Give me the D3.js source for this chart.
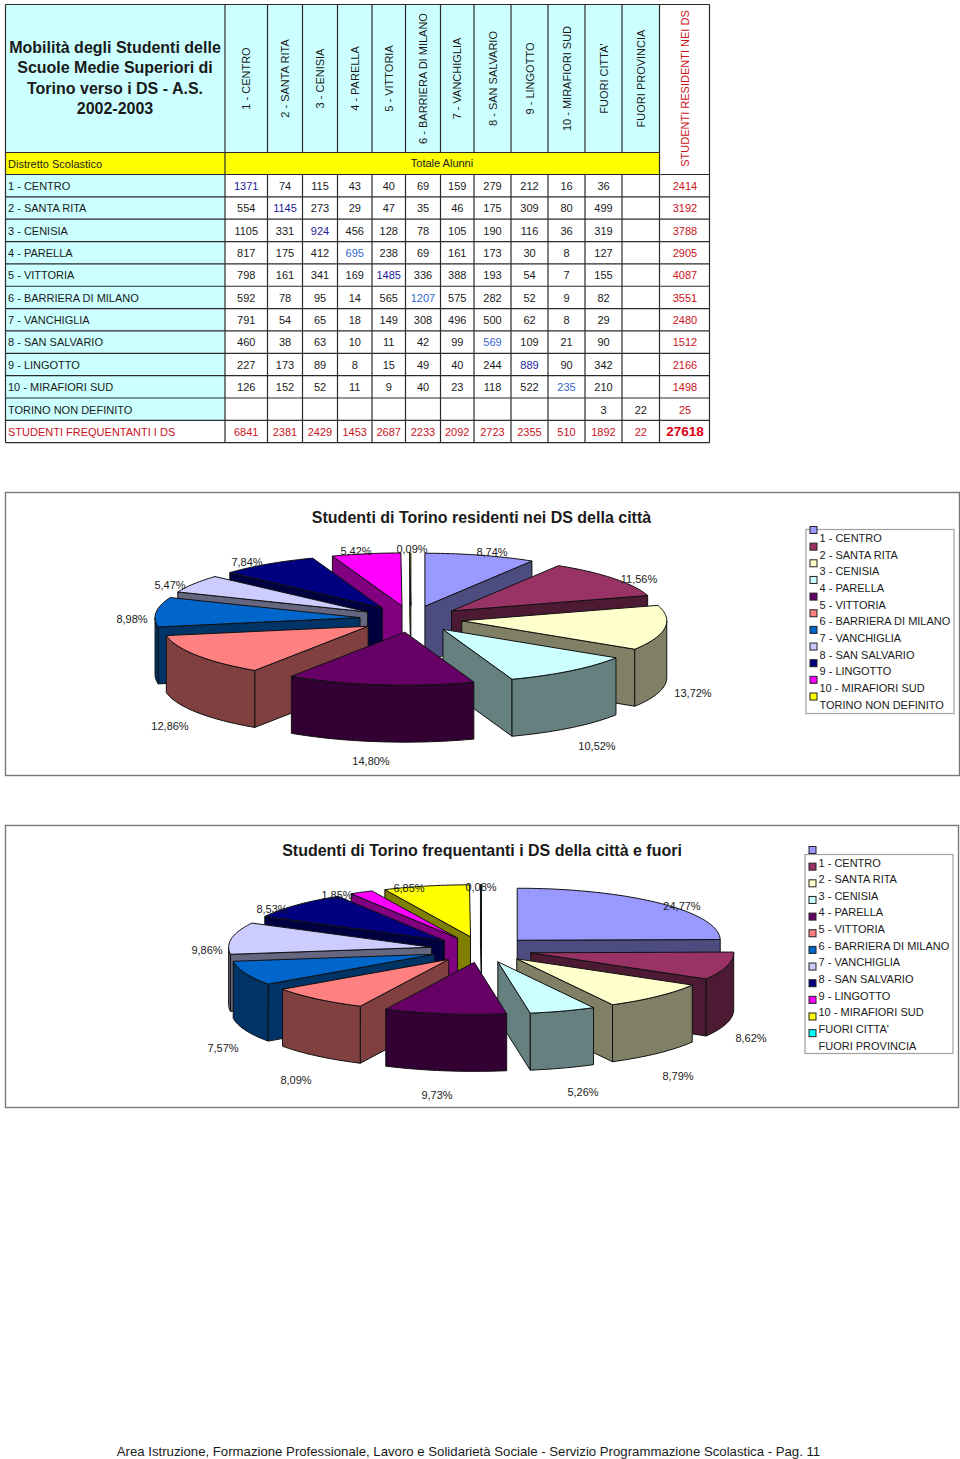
<!doctype html>
<html lang="it">
  <head>
    <meta charset="UTF-8" />
    <title>Mobilità degli Studenti</title>
    <script src="https://d3js.org/d3.v7.min.js"></script>
    <style>
      body {
        margin: 0;
        background: #fff;
      }
      svg {
        display: block;
      }
      text {
        font-family: "Liberation Sans", Arial, sans-serif;
        fill: #1a1a1a;
      }
    </style>
  </head>
  <body>
    <svg width="960" height="1459"></svg>

    <script>
      // table data
      const titleLines = [
        "Mobilità degli Studenti delle",
        "Scuole Medie Superiori di",
        "Torino verso i DS - A.S.",
        "2002-2003",
      ];
      const destinations = [
        "1 - CENTRO",
        "2 - SANTA RITA",
        "3 - CENISIA",
        "4 - PARELLA",
        "5 - VITTORIA",
        "6 - BARRIERA DI MILANO",
        "7 - VANCHIGLIA",
        "8 - SAN SALVARIO",
        "9 - LINGOTTO",
        "10 - MIRAFIORI SUD",
        "FUORI CITTA'",
        "FUORI PROVINCIA",
      ];
      const origins = [
        "1 - CENTRO",
        "2 - SANTA RITA",
        "3 - CENISIA",
        "4 - PARELLA",
        "5 - VITTORIA",
        "6 - BARRIERA DI MILANO",
        "7 - VANCHIGLIA",
        "8 - SAN SALVARIO",
        "9 - LINGOTTO",
        "10 - MIRAFIORI SUD",
        "TORINO NON DEFINITO",
      ];
      const flows = [
        [1371, 74, 115, 43, 40, 69, 159, 279, 212, 16, 36, null],
        [554, 1145, 273, 29, 47, 35, 46, 175, 309, 80, 499, null],
        [1105, 331, 924, 456, 128, 78, 105, 190, 116, 36, 319, null],
        [817, 175, 412, 695, 238, 69, 161, 173, 30, 8, 127, null],
        [798, 161, 341, 169, 1485, 336, 388, 193, 54, 7, 155, null],
        [592, 78, 95, 14, 565, 1207, 575, 282, 52, 9, 82, null],
        [791, 54, 65, 18, 149, 308, 496, 500, 62, 8, 29, null],
        [460, 38, 63, 10, 11, 42, 99, 569, 109, 21, 90, null],
        [227, 173, 89, 8, 15, 49, 40, 244, 889, 90, 342, null],
        [126, 152, 52, 11, 9, 40, 23, 118, 522, 235, 210, null],
        [null, null, null, null, null, null, null, null, null, null, 3, 22],
      ];
      const residents = [2414, 3192, 3788, 2905, 4087, 3551, 2480, 1512, 2166, 1498, 25];
      const attending = [6841, 2381, 2429, 1453, 2687, 2233, 2092, 2723, 2355, 510, 1892, 22];
      const grandTotal = 27618;

      // layout
      const colX = [225, 267.5, 302.5, 337.5, 372, 405.5, 440.5, 474, 511, 548, 585, 622, 659.5, 709.5];
      const tableLeft = 5.5;
      const tableTop = 4.5;
      const headBottom = 152.5;
      const rowTop = 174.5;
      const rowH = 22.35;

      const colours = ["#9999ff", "#993366", "#ffffcc", "#ccffff", "#660066", "#ff8080", "#0066cc", "#ccccff", "#000080", "#ff00ff", "#ffff00", "#00ffff"];
      const sideColours = ["#4c4c80", "#4d1a33", "#808066", "#668080", "#330033", "#804040", "#003366", "#666680", "#000040", "#800080", "#808000", "#008080"];

      const svg = d3.select("svg");
      const table = svg.append("g");
      const rows = flows.length + 1;
      const rowY = (i) => rowTop + i * rowH;
      const lineColour = "#2b2b2b";

      // backgrounds
      table.append("rect").attr("x", tableLeft).attr("y", tableTop).attr("width", colX[12] - tableLeft).attr("height", headBottom - tableTop).attr("fill", "#ccffff");
      table.append("rect").attr("x", tableLeft).attr("y", headBottom).attr("width", colX[12] - tableLeft).attr("height", rowTop - headBottom).attr("fill", "#ffff00");
      table.append("rect").attr("x", tableLeft).attr("y", rowTop).attr("width", colX[0] - tableLeft).attr("height", rowH * 11).attr("fill", "#ccffff");

      // grid lines
      const hLine = (y, x1, x2) => table.append("line").attr("x1", x1).attr("x2", x2).attr("y1", y).attr("y2", y).attr("stroke", lineColour).attr("stroke-width", 1.2);
      const vLine = (x, y1, y2) => table.append("line").attr("x1", x).attr("x2", x).attr("y1", y1).attr("y2", y2).attr("stroke", lineColour).attr("stroke-width", 1.2);
      hLine(tableTop, tableLeft, colX[13]);
      hLine(headBottom, tableLeft, colX[12]);
      d3.range(rows + 1).forEach((i) => hLine(rowY(i), tableLeft, colX[13]));
      vLine(tableLeft, tableTop, rowY(rows));
      vLine(colX[13], tableTop, rowY(rows));
      vLine(colX[0], tableTop, rowY(rows));
      colX.slice(1, 12).forEach((x) => {
        vLine(x, tableTop, headBottom);
        vLine(x, rowTop, rowY(rows));
      });
      vLine(colX[12], tableTop, rowY(rows));

      // header
      table.selectAll(".title").data(titleLines).enter().append("text")
        .attr("x", 115).attr("y", (d, i) => 53 + i * 20.3)
        .attr("text-anchor", "middle").attr("font-size", 16).attr("font-weight", "bold")
        .text((d) => d);
      table.append("text").attr("x", 8).attr("y", 167.5).attr("font-size", 11).text("Distretto Scolastico");
      table.append("text").attr("x", 442).attr("y", 167).attr("text-anchor", "middle").attr("font-size", 11).text("Totale Alunni");

      const midX = (j) => (colX[j] + colX[j + 1]) / 2;
      table.selectAll(".dest").data(destinations).enter().append("text")
        .attr("transform", (d, j) => `translate(${midX(j) + 4},78.5) rotate(-90)`)
        .attr("text-anchor", "middle").attr("font-size", 11)
        .text((d) => d);
      table.append("text")
        .attr("transform", "translate(689,88.5) rotate(-90)")
        .attr("text-anchor", "middle").attr("font-size", 11).style("fill", "#cc1122")
        .text("STUDENTI RESIDENTI NEI DS");

      // body, the coloured cells on the diagonal
      const darkDiagonal = [0, 1, 2, 4, 8];
      const lightDiagonal = [3, 5, 7, 9];
      const cell = (x, i, txt, fill, size, weight) =>
        table.append("text").attr("x", x).attr("y", rowY(i) + 15.5)
          .attr("text-anchor", "middle").attr("font-size", size || 11).attr("font-weight", weight || "normal")
          .style("fill", fill || "#1a1a1a").text(txt);

      flows.forEach((row, i) => {
        table.append("text").attr("x", 8).attr("y", rowY(i) + 15.5).attr("font-size", 11).text(origins[i]);
        row.forEach((v, j) => {
          if (v === null) return;
          let fill;
          if (i === j && darkDiagonal.includes(i)) fill = "#1a1a99";
          if (i === j && lightDiagonal.includes(i)) fill = "#3366cc";
          cell(midX(j), i, v, fill);
        });
        cell(685, i, residents[i], "#cc1122");
      });
      table.append("text").attr("x", 8).attr("y", rowY(11) + 15.5).attr("font-size", 11).style("fill", "#cc1122").text("STUDENTI FREQUENTANTI I DS");
      attending.forEach((v, j) => cell(midX(j), 11, v, "#cc1122"));
      cell(685, 11, grandTotal, "#dd0011", 13.5, "bold");

      // 3D exploded pie, flat ellipse projection
      const depth = 57;
      const explode = 0.25;
      const lineGen = d3.line();
      const pieGen = d3.pie().sort(null).value((d) => d);

      function drawPie(cfg) {
        const g = svg.append("g");
        g.append("rect").attr("x", cfg.frame[0]).attr("y", cfg.frame[1]).attr("width", cfg.frame[2]).attr("height", cfg.frame[3])
          .attr("fill", "#fff").attr("stroke", "#777").attr("stroke-width", 1.4);
        g.append("text").attr("x", cfg.titleX).attr("y", cfg.titleY).attr("text-anchor", "middle")
          .attr("font-size", 16).attr("font-weight", "bold").text(cfg.title);

        const x = d3.scaleLinear().domain([-1, 1]).range([cfg.cx - cfg.rx, cfg.cx + cfg.rx]);
        const y = d3.scaleLinear().domain([-1, 1]).range([cfg.cy - cfg.ry, cfg.cy + cfg.ry]);
        const total = d3.sum(cfg.values);

        const arcs = pieGen(cfg.values).map((d, i) => ({ ...d, i, mid: (d.startAngle + d.endAngle) / 2 }));
        arcs.sort((a, b) => Math.cos(b.mid) - Math.cos(a.mid));

        arcs.forEach((d) => {
          const ox = explode * Math.sin(d.mid);
          const oy = -explode * Math.cos(d.mid);
          const pt = (a) => [x(ox + Math.sin(a)), y(oy - Math.cos(a))];
          const apex = [x(ox), y(oy)];
          const down = (p) => [p[0], p[1] + depth];
          const samples = (a0, a1) => {
            const n = Math.max(2, Math.ceil((a1 - a0) * 40));
            return d3.range(n + 1).map((k) => pt(a0 + ((a1 - a0) * k) / n));
          };
          const s = g.append("g").attr("stroke", "#111").attr("stroke-width", 1).attr("stroke-linejoin", "round");
          const side = sideColours[d.i];

          // cut faces that look towards the viewer
          if (Math.sin(d.startAngle) < 0) {
            const p = pt(d.startAngle);
            s.append("path").attr("fill", side).attr("d", lineGen([apex, p, down(p), down(apex)]) + "Z");
          }
          if (Math.sin(d.endAngle) > 0) {
            const p = pt(d.endAngle);
            s.append("path").attr("fill", side).attr("d", lineGen([apex, p, down(p), down(apex)]) + "Z");
          }
          // outer wall, front half of the ellipse only
          const a0 = Math.max(d.startAngle, Math.PI / 2);
          const a1 = Math.min(d.endAngle, (3 * Math.PI) / 2);
          if (a1 > a0) {
            const top = samples(a0, a1);
            s.append("path").attr("fill", side).attr("d", lineGen(top.concat(top.map(down).reverse())) + "Z");
          }
          s.append("path").attr("fill", colours[d.i])
            .attr("d", lineGen([apex].concat(samples(d.startAngle, d.endAngle))) + "Z");
        });

        // percent labels
        g.selectAll(".pct").data(cfg.values).enter().append("text")
          .attr("x", (d, i) => cfg.labelXY[i][0]).attr("y", (d, i) => cfg.labelXY[i][1] + 4)
          .attr("text-anchor", "middle").attr("font-size", 11)
          .text((d) => ((d / total) * 100).toFixed(2).replace(".", ",") + "%");

        // legend
        g.append("rect").attr("x", cfg.legend[0]).attr("y", cfg.legend[1]).attr("width", cfg.legend[2]).attr("height", cfg.legend[3])
          .attr("fill", "#fff").attr("stroke", "#a0a0a0").attr("stroke-width", 1.2);
        cfg.names.forEach((name, i) => {
          g.append("rect").attr("x", cfg.markerX - 3.5).attr("y", cfg.markerY + i * 16.65 - 3.5).attr("width", 7).attr("height", 7)
            .attr("fill", colours[i]).attr("stroke", "#222");
          g.append("text").attr("x", cfg.nameX).attr("y", cfg.nameY + i * 16.65 + 4).attr("font-size", 11).text(name);
        });
      }

      drawPie({
        title: "Studenti di Torino residenti nei DS della città",
        titleX: 481.5,
        titleY: 522.5,
        frame: [5.5, 492.5, 954, 283],
        values: residents,
        names: origins,
        cx: 411,
        cy: 619,
        rx: 205,
        ry: 53,
        legend: [806, 529.5, 148, 184],
        markerX: 813.5,
        markerY: 530,
        nameX: 819.5,
        nameY: 538,
        labelXY: [[492, 552], [639, 579], [693, 693], [597, 746], [371, 761], [170, 726], [132, 619], [170, 585], [247, 562], [356, 551], [412, 549]],
      });

      drawPie({
        title: "Studenti di Torino frequentanti i DS della città e fuori",
        titleX: 482,
        titleY: 855.5,
        frame: [5.5, 825.5, 953, 282],
        values: attending,
        names: destinations,
        cx: 481.6,
        cy: 949.5,
        rx: 203,
        ry: 52,
        legend: [805, 854.5, 148, 199],
        markerX: 812.5,
        markerY: 850,
        nameX: 818.5,
        nameY: 862.5,
        labelXY: [[682, 906], [751, 1038], [678, 1076], [583, 1092], [437, 1095], [296, 1080], [223, 1048], [207, 950], [272, 909], [337, 895], [409, 888], [481, 887]],
      });

      svg.append("text").attr("x", 468.5).attr("y", 1456).attr("text-anchor", "middle").attr("font-size", 13.2)
        .text("Area Istruzione, Formazione Professionale, Lavoro e Solidarietà Sociale - Servizio Programmazione Scolastica - Pag. 11");
    </script>
  </body>
</html>
